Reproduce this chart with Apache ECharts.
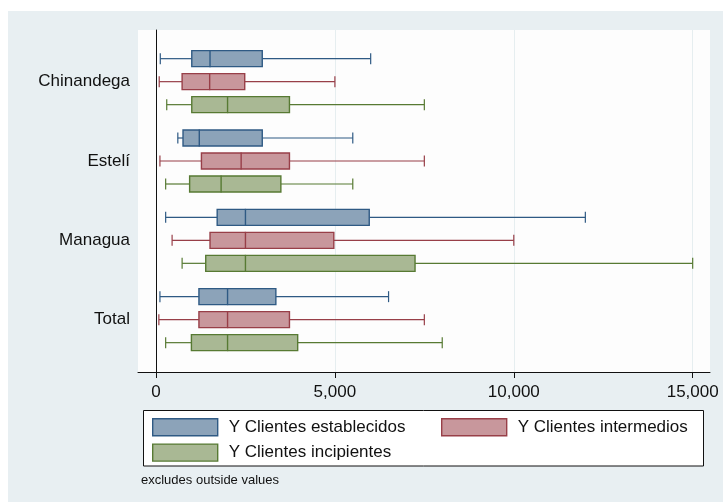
<!DOCTYPE html>
<html>
<head>
<meta charset="utf-8">
<script src="https://cdn.jsdelivr.net/npm/echarts@6/dist/echarts.min.js"></script>
<style>
  html, body { margin: 0; padding: 0; background: #ffffff; }
  #wrap { position: relative; width: 723px; height: 502px; background: #ffffff; }
  #panel { position: absolute; left: 8px; top: 11px; right: 0; bottom: 0; background: #e8eff2; }
  #chart { position: absolute; left: 0; top: 0; width: 723px; height: 502px; }
</style>
</head>
<body>
<div id="wrap">
  <div id="panel"></div>
  <div id="chart"></div>
</div>
<script>
// Regions shown on the category axis (top to bottom)
const categories = ['Chinandega', 'Estelí', 'Managua', 'Total'];

// Box summaries per region: [lower whisker, Q1, median, Q3, upper whisker]
const establecidos = [
  [120, 1000, 1510, 2970, 6000],
  [610, 755, 1210, 2970, 5500],
  [270, 1710, 2500, 5960, 12000],
  [110, 1200, 2000, 3350, 6500]
];
const intermedios = [
  [90, 730, 1500, 2480, 5000],
  [110, 1270, 2380, 3730, 7500],
  [450, 1510, 2500, 4970, 10000],
  [80, 1200, 2000, 3730, 7500]
];
const incipientes = [
  [300, 1000, 2000, 3730, 7500],
  [270, 940, 1820, 3490, 5500],
  [730, 1390, 2500, 7240, 15000],
  [270, 990, 2000, 3960, 8000]
];

const seriesNames = ['Y Clientes establecidos', 'Y Clientes intermedios', 'Y Clientes incipientes'];
const xTicks = [0, 5000, 10000, 15000];
const noteText = 'excludes outside values';

const FONT = '"Liberation Sans", Arial, sans-serif';
const fills = ['#8ca3b9', '#c8979c', '#a9b894'];
const strokes = ['#2f5a84', '#983f48', '#577a33'];
const rowOffsets = [-23, 0, 23];
const X_MIN = -503, X_MAX = 15484;

function toItems(rows) {
  return rows.map((r, i) => [i].concat(r));
}

function renderBox(params, api) {
  const s = params.seriesIndex;
  const cat = api.value(0);
  const px = k => api.coord([api.value(k), cat])[0];
  const yc = api.coord([0, cat])[1] + rowOffsets[s];
  const wl = px(1), q1 = px(2), md = px(3), q3 = px(4), wh = px(5);
  const boxH = 16, capH = 11, medH = 17;
  const stroke = strokes[s];
  const lineStyle = { stroke: stroke, lineWidth: 1.2 };
  return {
    type: 'group',
    children: [
      { type: 'line', shape: { x1: wl, y1: yc, x2: q1, y2: yc }, style: lineStyle },
      { type: 'line', shape: { x1: q3, y1: yc, x2: wh, y2: yc }, style: lineStyle },
      { type: 'line', shape: { x1: wl, y1: yc - capH / 2, x2: wl, y2: yc + capH / 2 }, style: lineStyle },
      { type: 'line', shape: { x1: wh, y1: yc - capH / 2, x2: wh, y2: yc + capH / 2 }, style: lineStyle },
      { type: 'rect', shape: { x: q1, y: yc - boxH / 2, width: q3 - q1, height: boxH },
        style: { fill: fills[s], stroke: stroke, lineWidth: 1.4 } },
      { type: 'line', shape: { x1: md, y1: yc - medH / 2, x2: md, y2: yc + medH / 2 },
        style: { stroke: stroke, lineWidth: 1.4 } }
    ]
  };
}

// Shared look of the legend entries
function legendBlock(extra, names) {
  return Object.assign({
    padding: 0,
    itemWidth: 65,
    itemHeight: 17,
    itemGap: 7,
    icon: 'rect',
    selectedMode: false,
    z: 5,
    formatter: name => '{t|' + name + '}',
    textStyle: {
      fontFamily: FONT, fontSize: 17, color: '#111',
      rich: { t: { fontFamily: FONT, fontSize: 17, color: '#111', padding: [0, 0, 0, 6] } }
    },
    data: names.map(n => {
      const i = seriesNames.indexOf(n);
      return { name: n, itemStyle: { color: fills[i], borderColor: strokes[i], borderWidth: 1.4 } };
    })
  }, extra);
}

const chart = echarts.init(document.getElementById('chart'), null, { renderer: 'canvas' });

const allData = [establecidos, intermedios, incipientes];

chart.setOption({
  backgroundColor: 'transparent',
  animation: false,
  textStyle: { fontFamily: FONT },
  title: {
    text: noteText,
    left: 141,
    top: 474,
    padding: 0,
    textStyle: { fontFamily: FONT, fontSize: 13, fontWeight: 'normal', color: '#111' }
  },
  graphic: [{
    type: 'rect',
    z: 0,
    shape: { x: 143.5, y: 410.5, width: 560, height: 55.5 },
    style: { fill: '#ffffff', stroke: '#111', lineWidth: 1 }
  }],
  legend: [
    legendBlock({ left: 152, top: 418, orient: 'vertical' }, [seriesNames[0], seriesNames[2]]),
    legendBlock({ left: 441, top: 418, orient: 'horizontal' }, [seriesNames[1]])
  ],
  grid: [
    // plot frame: white region, x axis and left axis line
    { left: 138, right: 13, top: 30, bottom: 130, show: true, backgroundColor: '#fdfdfd', borderWidth: 0 },
    // category bands holding the boxes
    { left: 138, right: 13, top: 42, height: 317.33 }
  ],
  xAxis: [
    {
      type: 'value', gridIndex: 0, min: X_MIN, max: X_MAX,
      axisLine: { show: true, lineStyle: { color: '#111', width: 1 } },
      axisTick: { show: true, length: 6, customValues: xTicks, lineStyle: { color: '#111' } },
      axisLabel: {
        customValues: xTicks, margin: 12, fontSize: 17, color: '#111', fontFamily: FONT,
        formatter: v => Number(v).toLocaleString('en-US')
      },
      splitLine: { show: true, lineStyle: { color: '#e6eef0', width: 1 } }
    },
    {
      type: 'value', gridIndex: 1, min: X_MIN, max: X_MAX, show: false,
      splitLine: { show: false }
    }
  ],
  yAxis: [
    {
      type: 'value', gridIndex: 0, min: 0, max: 1,
      axisLine: { show: true, lineStyle: { color: '#111', width: 1 } },
      axisTick: { show: false }, axisLabel: { show: false }, splitLine: { show: false }
    },
    {
      type: 'category', gridIndex: 1, data: categories, inverse: true,
      axisLine: { show: false }, axisTick: { show: false },
      axisLabel: { margin: 8, fontSize: 17, color: '#111', fontFamily: FONT },
      splitLine: { show: false }
    }
  ],
  series: allData.map((rows, i) => ({
    type: 'custom',
    name: seriesNames[i],
    xAxisIndex: 1,
    yAxisIndex: 1,
    z: 3,
    itemStyle: { color: fills[i], borderColor: strokes[i] },
    encode: { x: [1, 2, 3, 4, 5], y: 0 },
    renderItem: renderBox,
    data: toItems(rows)
  }))
});
</script>
</body>
</html>
